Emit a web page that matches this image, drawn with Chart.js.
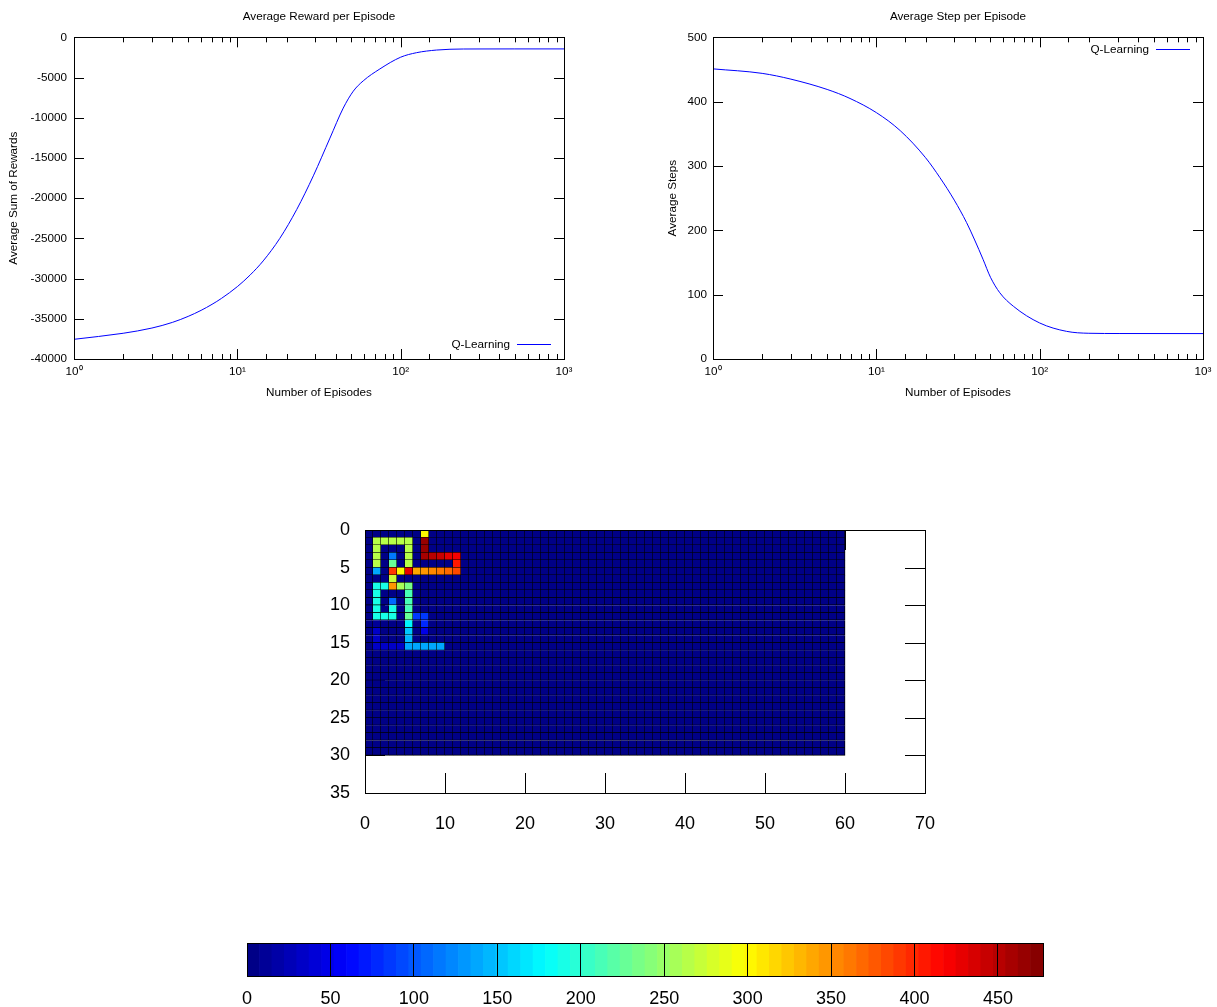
<!DOCTYPE html>
<html>
<head>
<meta charset="utf-8">
<script src="https://cdn.jsdelivr.net/npm/chart.js@4.4.1/dist/chart.umd.min.js"></script>
<style>
  html, body { margin: 0; padding: 0; background: #fff; overflow: hidden; }
  body { width: 1217px; height: 1007px; position: relative; }
  canvas { position: absolute; }
</style>
</head>
<body>
<canvas id="rewardChart" style="left:0;top:0;width:610px;height:410px"></canvas>
<canvas id="stepChart" style="left:640px;top:0;width:577px;height:410px"></canvas>
<canvas id="visitMap" style="left:290px;top:510px;width:660px;height:340px"></canvas>
<canvas id="colorBar" style="left:200px;top:925px;width:900px;height:82px"></canvas>
<script>
// --- line charts ---
const rewardEpisodes = [1, 2, 3, 4, 5, 6, 7, 8, 10, 12, 14.4, 18.2, 23.1, 29.2, 36.9, 44.5, 51.3, 59, 74.6, 100, 125, 166, 242, 306, 500, 1000];
const rewardValues = [-37550, -36800, -36150, -35450, -34700, -33950, -33200, -32460, -31000, -29540, -27800, -25000, -21410, -17220, -12530, -8800, -6690, -5410, -3930, -2470, -1910, -1580, -1450, -1445, -1440, -1440];
const stepEpisodes = [1, 2, 3, 5, 6.9, 10, 14, 20, 24.5, 30, 35.7, 40, 45, 50, 57, 69, 100, 146, 200, 310, 1000];
const stepValues = [451, 444, 435, 419, 405, 383, 355, 313, 282, 247, 212, 185, 155, 127, 103, 82, 56, 43, 40, 39.6, 39.5];
const decadeLabels = ['10\u2070', '10\u00b9', '10\u00b2', '10\u00b3'];
const seriesName = 'Q-Learning';
const seriesColor = '#0000ff';

// --- visit map: rows 0..15, columns 0..11; every other cell is 0 ---
const gridCols = 60;
const gridRows = 30;
const visitRows = [
  [0, 0, 0, 0, 0, 0, 0, 299, 0, 0, 0, 0],
  [0, 263, 263, 263, 263, 263, 0, 468, 0, 0, 0, 0],
  [0, 263, 0, 0, 0, 263, 0, 466, 0, 0, 0, 0],
  [0, 263, 0, 118, 0, 263, 0, 462, 452, 440, 425, 418],
  [0, 263, 0, 226, 0, 263, 0, 0, 0, 0, 0, 404],
  [0, 136, 0, 388, 299, 428, 336, 344, 351, 360, 372, 384],
  [0, 0, 0, 272, 0, 0, 0, 0, 0, 0, 0, 0],
  [0, 188, 188, 344, 254, 232, 0, 0, 0, 0, 0, 0],
  [0, 192, 0, 0, 0, 212, 0, 0, 0, 0, 0, 0],
  [0, 190, 0, 108, 0, 212, 0, 0, 0, 0, 0, 0],
  [0, 190, 0, 190, 0, 214, 0, 0, 0, 0, 0, 0],
  [0, 188, 188, 188, 0, 224, 88, 86, 0, 0, 0, 0],
  [0, 12, 0, 0, 0, 172, 0, 76, 0, 0, 0, 0],
  [0, 36, 0, 0, 0, 152, 0, 45, 0, 0, 0, 0],
  [0, 36, 0, 0, 0, 144, 0, 0, 0, 0, 0, 0],
  [0, 36, 36, 36, 36, 140, 136, 138, 138, 136, 0, 0]
];
const paletteMax = 477;
const paletteLevels = 64;

const fontFamily = '"Liberation Sans", Arial, sans-serif';
const smallFont = { family: fontFamily, size: 11.7, weight: 'normal' };
const bigFont = { family: fontFamily, size: 18 };

function jet(t) {
  const c = v => Math.round(255 * Math.min(1, Math.max(0, v)));
  return `rgb(${c(1.5 - Math.abs(4 * t - 3))},${c(1.5 - Math.abs(4 * t - 2))},${c(1.5 - Math.abs(4 * t - 1))})`;
}
function levelColor(v) {
  const k = Math.min(paletteLevels - 1, Math.floor(v / paletteMax * paletteLevels));
  return jet((k + 0.5) / paletteLevels);
}
function isDecade(v) {
  const e = Math.log10(v);
  return Math.abs(e - Math.round(e)) < 1e-9;
}
// fixed axis box, no extra room for overhanging labels
function fixBox(size) {
  return s => {
    if (s.isHorizontal()) s.height = size; else s.width = size;
    s.paddingTop = 0; s.paddingBottom = 0; s.paddingLeft = 0; s.paddingRight = 0;
  };
}

// gnuplot style: ticks pointing inward on all four sides, plus a box
const gnuplotFrame = {
  id: 'gnuplotFrame',
  beforeDatasetsDraw(chart, args, opts) {
    if (!opts.major) return;
    const { ctx, chartArea: a, scales: { x, y } } = chart;
    ctx.save();
    ctx.strokeStyle = '#000';
    ctx.lineWidth = 1;
    ctx.beginPath();
    x.ticks.forEach(t => {
      const p = Math.round(x.getPixelForValue(t.value)) + 0.5;
      const len = (!opts.logX || isDecade(t.value)) ? opts.major : opts.minor;
      ctx.moveTo(p, a.bottom); ctx.lineTo(p, a.bottom - len);
      ctx.moveTo(p, a.top); ctx.lineTo(p, a.top + len);
    });
    y.ticks.forEach(t => {
      const p = Math.round(y.getPixelForValue(t.value)) + 0.5;
      ctx.moveTo(a.left, p); ctx.lineTo(a.left + opts.major, p);
      ctx.moveTo(a.right, p); ctx.lineTo(a.right - opts.major, p);
    });
    ctx.stroke();
    ctx.restore();
  },
  afterDatasetsDraw(chart, args, opts) {
    if (!opts.box) return;
    const { ctx, chartArea: a } = chart;
    ctx.save();
    ctx.strokeStyle = '#000';
    ctx.lineWidth = 1;
    const l = Math.round(a.left) + 0.5, t = Math.round(a.top) + 0.5;
    ctx.strokeRect(l, t, Math.round(a.right) - Math.round(a.left), Math.round(a.bottom) - Math.round(a.top));
    ctx.restore();
  }
};

// key drawn inside the plot, like gnuplot does
const insideLegend = {
  id: 'insideLegend',
  afterDatasetsDraw(chart, args, opts) {
    if (!opts.corner) return;
    const { ctx, chartArea: a } = chart;
    const ds = chart.data.datasets[0];
    const yy = Math.round(opts.corner === 'top' ? a.top + 12 : a.bottom - 15) + 0.5;
    ctx.save();
    ctx.font = `${smallFont.size}px ${fontFamily}`;
    ctx.fillStyle = '#000';
    ctx.textAlign = 'right';
    ctx.textBaseline = 'middle';
    ctx.fillText(ds.label, a.right - 54, yy + 0.5);
    ctx.strokeStyle = seriesColor;
    ctx.lineWidth = 1;
    ctx.beginPath();
    ctx.moveTo(a.right - 47, yy);
    ctx.lineTo(a.right - 13, yy);
    ctx.stroke();
    ctx.restore();
  }
};

Chart.register(gnuplotFrame, insideLegend);

function lineChart(id, xs, ys, cfg) {
  const el = document.getElementById(id);
  el.width = cfg.w; el.height = 410;
  return new Chart(el, {
    type: 'line',
    data: {
      datasets: [{
        label: seriesName,
        data: xs.map((x, i) => ({ x: x, y: ys[i] })),
        borderColor: seriesColor,
        borderWidth: 1,
        pointRadius: 0,
        cubicInterpolationMode: 'monotone',
        fill: false
      }]
    },
    options: {
      responsive: false,
      animation: false,
      events: [],
      layout: { padding: { right: cfg.padRight } },
      plugins: {
        legend: { display: false },
        tooltip: { enabled: false },
        title: {
          display: true, text: cfg.title, fullSize: false, color: '#000', font: smallFont,
          padding: { top: 10.2, bottom: 13.1 }
        },
        gnuplotFrame: { major: 10, minor: 5, logX: true, box: true },
        insideLegend: { corner: cfg.legend }
      },
      scales: {
        x: {
          type: 'logarithmic', min: 1, max: 1000,
          grid: { display: false, drawTicks: false }, border: { display: false },
          ticks: {
            autoSkip: false, maxRotation: 0, padding: 6, color: '#000', font: smallFont,
            callback: v => isDecade(v) ? decadeLabels[Math.round(Math.log10(v))] : ''
          },
          title: { display: true, text: 'Number of Episodes', color: '#000', font: smallFont, padding: { top: 0, bottom: 10 } },
          afterFit: fixBox(51)
        },
        y: {
          min: cfg.yMin, max: cfg.yMax,
          grid: { display: false, drawTicks: false }, border: { display: false },
          ticks: { stepSize: cfg.yStep, padding: cfg.yPad, color: '#000', font: smallFont, callback: v => String(v) },
          title: { display: true, text: cfg.yTitle, color: '#000', font: smallFont, padding: { top: cfg.yTitlePad, bottom: 0 } },
          afterFit: fixBox(cfg.yWidth)
        }
      }
    }
  });
}

lineChart('rewardChart', rewardEpisodes, rewardValues, {
  w: 610, padRight: 46, title: 'Average Reward per Episode', legend: 'bottom',
  yMin: -40000, yMax: 0, yStep: 5000, yPad: 7, yTitle: 'Average Sum of Rewards', yTitlePad: 7, yWidth: 74
});
lineChart('stepChart', stepEpisodes, stepValues, {
  w: 577, padRight: 14, title: 'Average Step per Episode', legend: 'top',
  yMin: 0, yMax: 500, yStep: 100, yPad: 6, yTitle: 'Average Steps', yTitlePad: 26, yWidth: 73
});

// visit map as floating bars, one per cell
const cells = [];
for (let r = 0; r < gridRows; r++) {
  for (let c = 0; c < gridCols; c++) {
    const v = (visitRows[r] && visitRows[r][c]) || 0;
    cells.push({ x: c + 0.5, y: [r, r + 1], v: v });
  }
}
const mapEl = document.getElementById('visitMap');
mapEl.width = 660; mapEl.height = 340;
new Chart(mapEl, {
  type: 'bar',
  data: {
    datasets: [{
      data: cells,
      backgroundColor: ctx => ctx.raw ? levelColor(ctx.raw.v) : '#000',
      borderColor: '#000',
      borderWidth: { top: 0, left: 0, right: 1, bottom: 1 },
      borderSkipped: false,
      inflateAmount: 0.4,
      barPercentage: 1,
      categoryPercentage: 1
    }]
  },
  options: {
    responsive: false,
    animation: false,
    events: [],
    layout: { padding: { top: 20, right: 25 } },
    plugins: {
      legend: { display: false },
      tooltip: { enabled: false },
      gnuplotFrame: { major: 20, minor: 20, box: true }
    },
    scales: {
      x: {
        type: 'linear', min: 0, max: 70, offset: false,
        grid: { display: false, drawTicks: false, offset: false }, border: { display: false },
        ticks: { stepSize: 10, includeBounds: false, autoSkip: false, maxRotation: 0, padding: 20.5, color: '#000', font: bigFont, callback: v => String(v) },
        afterFit: fixBox(57)
      },
      y: {
        type: 'linear', reverse: true, min: 0, max: 35,
        grid: { display: false, drawTicks: false }, border: { display: false },
        ticks: { stepSize: 5, includeBounds: false, padding: 15, color: '#000', font: bigFont, callback: v => String(v) },
        afterFit: fixBox(75)
      }
    }
  }
});

// colour bar: one bar per palette level
const bandCenters = [];
const bandColors = [];
for (let k = 0; k < paletteLevels; k++) {
  bandCenters.push((k + 0.5) * paletteMax / paletteLevels);
  bandColors.push(jet((k + 0.5) / paletteLevels));
}
const barEl = document.getElementById('colorBar');
barEl.width = 900; barEl.height = 82;
new Chart(barEl, {
  type: 'bar',
  data: {
    datasets: [{
      data: bandCenters.map(x => ({ x: x, y: 1 })),
      backgroundColor: bandColors,
      borderWidth: 0,
      barPercentage: 1,
      categoryPercentage: 1
    }]
  },
  options: {
    responsive: false,
    animation: false,
    events: [],
    layout: { padding: { left: 47, right: 57, top: 18 } },
    plugins: {
      legend: { display: false },
      tooltip: { enabled: false },
      gnuplotFrame: { box: true }
    },
    scales: {
      x: {
        type: 'linear', min: 0, max: paletteMax, offset: false,
        grid: { display: true, color: '#000', lineWidth: 1, drawTicks: false, offset: false, z: 1 },
        border: { display: false },
        ticks: { stepSize: 50, includeBounds: false, autoSkip: false, maxRotation: 0, padding: 12, color: '#000', font: bigFont, callback: v => String(v) },
        afterFit: fixBox(31)
      },
      y: { display: false, min: 0, max: 1 }
    }
  }
});
</script>
</body>
</html>
